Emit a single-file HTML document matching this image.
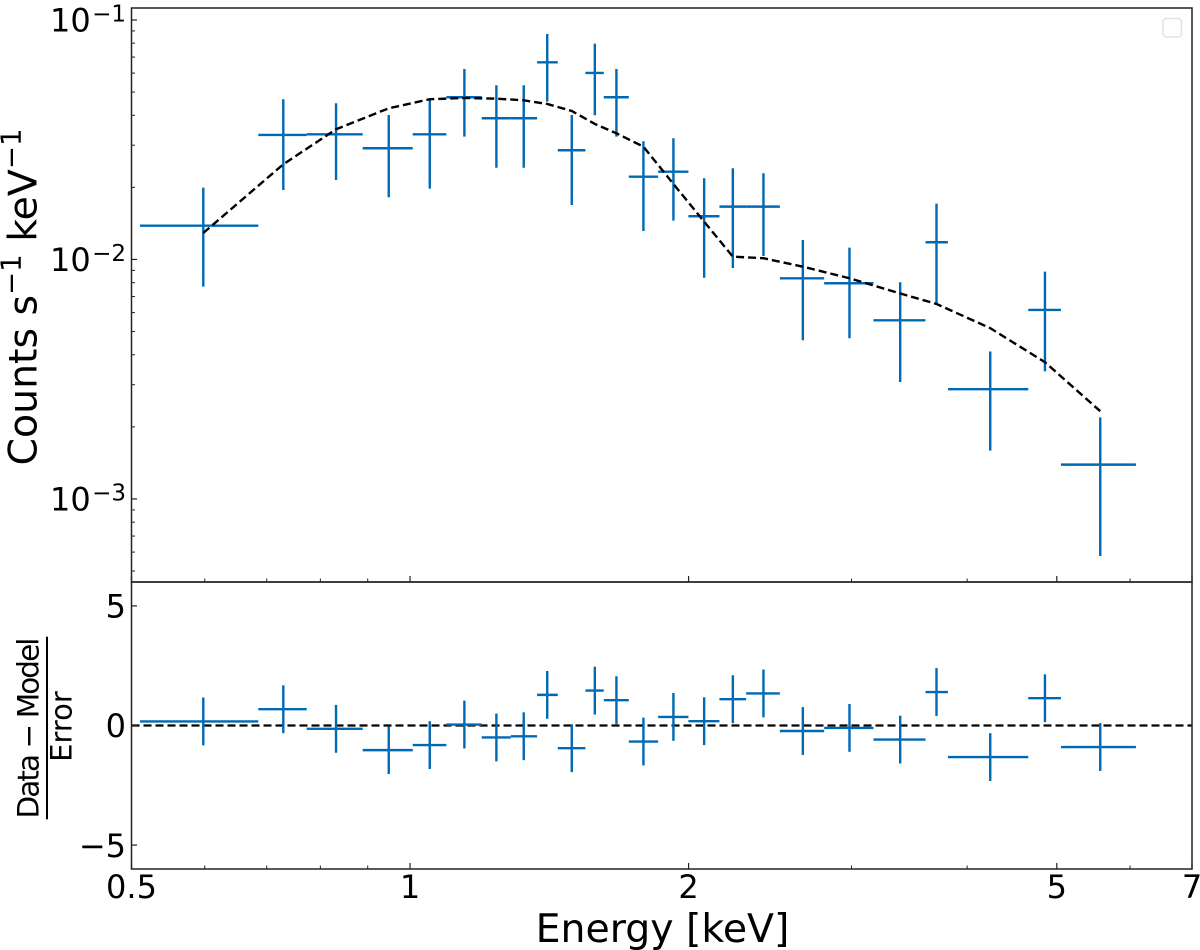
<!DOCTYPE html>
<html lang="en">
<head>
<meta charset="utf-8">
<title>X-ray spectrum with residuals</title>
<style>
html,body{margin:0;padding:0;background:#fff;width:1200px;height:950px;overflow:hidden}
svg{display:block}
text{font-family:"DejaVu Sans","Liberation Sans",sans-serif;fill:#000}
</style>
</head>
<body>
<svg id="chart" width="1200" height="950" viewBox="0 0 1200 950" xmlns="http://www.w3.org/2000/svg">
  <rect x="0" y="0" width="1200" height="950" fill="#fff"/>
  <g id="top-panel"></g>
  <g id="bottom-panel"></g>
  <g id="tick-labels"></g>
  <rect x="1163" y="18.5" width="18.5" height="18.5" rx="3.5" fill="#fff" stroke="#e2e2e2" stroke-width="1.5"/>
  <text x="662.5" y="942" font-size="39.4" text-anchor="middle">Energy [keV]</text>
  <text transform="translate(36.7,465.5) rotate(-90)" font-size="39.4">Counts s<tspan font-size="27.6" dy="-16">−1</tspan><tspan dy="16"> keV</tspan><tspan font-size="27.6" dy="-16">−1</tspan></text>
  <g>
    <text transform="translate(38.5,728) rotate(-90)" font-size="29.5" text-anchor="middle" textLength="181" lengthAdjust="spacing">Data − Model</text>
    <line x1="47" y1="636.7" x2="47" y2="819.3" stroke="#000" stroke-width="2"/>
    <text transform="translate(71.7,726.5) rotate(-90)" font-size="29" text-anchor="middle">Error</text>
  </g>
</svg>
<script>
// Chart data
const binEdges = [0.5107, 0.6855, 0.7733, 0.8889, 1.0067, 1.0946, 1.1954, 1.2849, 1.3719, 1.4444, 1.5471, 1.6196, 1.7236, 1.8540, 1.9992, 2.1597, 2.3080, 2.5101, 2.8026, 3.1686, 3.6063, 3.8132, 4.6570, 5.0521, 6.0885];
const energies = [0.5978, 0.7295, 0.8318, 0.9484, 1.0503, 1.1448, 1.2397, 1.3270, 1.4069, 1.4955, 1.5838, 1.6713, 1.7874, 1.9260, 2.0790, 2.2329, 2.4096, 2.6578, 2.9849, 3.3863, 3.7065, 4.2368, 4.8549, 5.5712];
const counts = [0.01384, 0.03310, 0.03332, 0.02913, 0.03332, 0.04757, 0.03887, 0.03887, 0.06659, 0.02858, 0.06008, 0.04757, 0.02217, 0.02325, 0.01515, 0.01662, 0.01662, 0.008346, 0.007955, 0.005573, 0.01180, 0.002874, 0.006155, 0.001391];
const countsUpper = [0.01994, 0.04667, 0.04488, 0.04011, 0.04634, 0.06245, 0.05338, 0.05338, 0.08740, 0.04011, 0.07964, 0.06245, 0.03116, 0.03208, 0.02183, 0.02403, 0.02291, 0.01206, 0.01120, 0.008032, 0.01710, 0.004129, 0.008893, 0.002191];
const countsLower = [0.00770, 0.01951, 0.02147, 0.01818, 0.01975, 0.03257, 0.02416, 0.02416, 0.04559, 0.01689, 0.03999, 0.03257, 0.01315, 0.01452, 0.00839, 0.00921, 0.01034, 0.004601, 0.004691, 0.003080, 0.006520, 0.001592, 0.003410, 0.000578];
const modelCounts = [0.01290, 0.02497, 0.03497, 0.04278, 0.04667, 0.04724, 0.04692, 0.04621, 0.04460, 0.04169, 0.03680, 0.03364, 0.02958, 0.02066, 0.01438, 0.01027, 0.01012, 0.009331, 0.008346, 0.007212, 0.00652, 0.005166, 0.003725, 0.002325];
const residuals = [0.17, 0.68, -0.14, -1.03, -0.82, 0.04, -0.50, -0.45, 1.28, -0.95, 1.46, 1.06, -0.67, 0.36, 0.18, 1.10, 1.34, -0.23, -0.10, -0.59, 1.40, -1.32, 1.14, -0.90];
const residualErrors = [1, 1, 1, 1, 1, 1, 1, 1, 1, 1, 1, 1, 1, 1, 1, 1, 1, 1, 1, 1, 1, 1, 1, 1];
const xMajorTicks = [0.5, 1, 2, 5, 7];
const xMajorTickLabels = ["0.5", "1", "2", "5", "7"];
const xMinorTicks = [0.6, 0.7, 0.8, 0.9, 3, 4, 6];
const yDecadeTicks = [0.1, 0.01, 0.001];
const yDecadeExponents = ["−1", "−2", "−3"];
const yMinorTicks = [0.09, 0.08, 0.07, 0.06, 0.05, 0.04, 0.03, 0.02, 0.009, 0.008, 0.007, 0.006, 0.005, 0.004, 0.003, 0.002, 0.0009, 0.0008, 0.0007, 0.0006, 0.0005];
const residualTicks = [5, 0, -5];
const residualTickLabels = ["5", "0", "−5"];
const xDomain = [0.5, 7];
const yDomain = [0.00045, 0.1122];
const residualDomain = [-6, 6];

const PLOT_LEFT = 131.5, PLOT_RIGHT = 1192, TOP_Y0 = 8, TOP_Y1 = 582, BOT_Y0 = 582, BOT_Y1 = 869;
const BLUE = "#0069b4";
const INK = "#222";
const SVG_NS = "http://www.w3.org/2000/svg";

function xScale(e) {
  return PLOT_LEFT + (Math.log10(e) - Math.log10(xDomain[0])) / (Math.log10(xDomain[1]) - Math.log10(xDomain[0])) * (PLOT_RIGHT - PLOT_LEFT);
}
function yScale(v) {
  return TOP_Y1 - (Math.log10(v) - Math.log10(yDomain[0])) / (Math.log10(yDomain[1]) - Math.log10(yDomain[0])) * (TOP_Y1 - TOP_Y0);
}
function rScale(v) {
  return BOT_Y1 - (v - residualDomain[0]) / (residualDomain[1] - residualDomain[0]) * (BOT_Y1 - BOT_Y0);
}
function makeLine(parent, x1, y1, x2, y2, color, width) {
  const el = document.createElementNS(SVG_NS, "line");
  el.setAttribute("x1", x1);
  el.setAttribute("y1", y1);
  el.setAttribute("x2", x2);
  el.setAttribute("y2", y2);
  el.setAttribute("stroke", color);
  el.setAttribute("stroke-width", width);
  parent.appendChild(el);
  return el;
}
function makeText(parent, x, y, size, anchor, content) {
  const el = document.createElementNS(SVG_NS, "text");
  el.setAttribute("x", x);
  el.setAttribute("y", y);
  el.setAttribute("font-size", size);
  el.setAttribute("text-anchor", anchor);
  el.textContent = content;
  parent.appendChild(el);
  return el;
}

const topPanel = document.getElementById("top-panel");
const bottomPanel = document.getElementById("bottom-panel");
const tickLabels = document.getElementById("tick-labels");

// Data marks, spectrum panel
energies.forEach(function (e, i) {
  const g = document.createElementNS(SVG_NS, "g");
  
  
  const h = makeLine(g, xScale(binEdges[i]), yScale(counts[i]), xScale(binEdges[i + 1]), yScale(counts[i]), BLUE, 2.4);
  
  
  const v = makeLine(g, xScale(e), yScale(countsUpper[i]), xScale(e), yScale(countsLower[i]), BLUE, 2.4);
  
  
  topPanel.appendChild(g);
});

// Model curve
const modelPath = document.createElementNS(SVG_NS, "polyline");


modelPath.setAttribute("points", energies.map(function (e, i) { return xScale(e) + "," + yScale(modelCounts[i]); }).join(" "));
modelPath.setAttribute("fill", "none");
modelPath.setAttribute("stroke", "#000");
modelPath.setAttribute("stroke-width", "2.4");
modelPath.setAttribute("stroke-dasharray", "8 4");
topPanel.appendChild(modelPath);

// Zero reference line
const zeroLine = makeLine(bottomPanel, PLOT_LEFT, rScale(0), PLOT_RIGHT, rScale(0), "#000", 2.3);


zeroLine.setAttribute("stroke-dasharray", "8 4");

// Data marks, residual panel
energies.forEach(function (e, i) {
  const g = document.createElementNS(SVG_NS, "g");
  
  
  const h = makeLine(g, xScale(binEdges[i]), rScale(residuals[i]), xScale(binEdges[i + 1]), rScale(residuals[i]), BLUE, 2.4);
  
  
  const v = makeLine(g, xScale(e), rScale(residuals[i] + residualErrors[i]), xScale(e), rScale(residuals[i] - residualErrors[i]), BLUE, 2.4);
  
  
  bottomPanel.appendChild(g);
});

// X ticks on both panels
[TOP_Y1, BOT_Y1].forEach(function (base) {
  xMajorTicks.forEach(function (t) {
    const el = makeLine(base === TOP_Y1 ? topPanel : bottomPanel, xScale(t), base, xScale(t), base - 6, INK, 1.2);
    
    
  });
  xMinorTicks.forEach(function (t) {
    const el = makeLine(base === TOP_Y1 ? topPanel : bottomPanel, xScale(t), base, xScale(t), base - 3.5, INK, 1);
    
    
  });
});

// X tick labels
xMajorTicks.forEach(function (t, i) {
  const el = makeText(tickLabels, xScale(t), 898, 32, "middle", xMajorTickLabels[i]);
  
  
});

// Y ticks, spectrum panel
yDecadeTicks.forEach(function (t, i) {
  const y = yScale(t);
  const tick = makeLine(topPanel, PLOT_LEFT, y, PLOT_LEFT + 5.5, y, INK, 1.2);
  
  
  const base = makeText(tickLabels, 50, y + 11.7, 32, "start", "10");
  
  
  const exp = makeText(tickLabels, 126, y + 1.5, 23, "end", yDecadeExponents[i]);
  
  
});
yMinorTicks.forEach(function (t) {
  const y = yScale(t);
  const tick = makeLine(topPanel, PLOT_LEFT, y, PLOT_LEFT + 3.5, y, INK, 1);
  
  
});

// Y ticks, residual panel
residualTicks.forEach(function (t, i) {
  const y = rScale(t);
  const tick = makeLine(bottomPanel, PLOT_LEFT, y, PLOT_LEFT + 5.5, y, INK, 1.2);
  
  
  const label = makeText(tickLabels, 126, y + 11.7, 32, "end", residualTickLabels[i]);
  
  
});

// Panel frames
const topFrame = document.createElementNS(SVG_NS, "rect");


topFrame.setAttribute("x", PLOT_LEFT);
topFrame.setAttribute("y", TOP_Y0);
topFrame.setAttribute("width", PLOT_RIGHT - PLOT_LEFT);
topFrame.setAttribute("height", TOP_Y1 - TOP_Y0);
topFrame.setAttribute("fill", "none");
topFrame.setAttribute("stroke", INK);
topFrame.setAttribute("stroke-width", "1.5");
topPanel.appendChild(topFrame);

const bottomFrame = document.createElementNS(SVG_NS, "rect");


bottomFrame.setAttribute("x", PLOT_LEFT);
bottomFrame.setAttribute("y", BOT_Y0);
bottomFrame.setAttribute("width", PLOT_RIGHT - PLOT_LEFT);
bottomFrame.setAttribute("height", BOT_Y1 - BOT_Y0);
bottomFrame.setAttribute("fill", "none");
bottomFrame.setAttribute("stroke", INK);
bottomFrame.setAttribute("stroke-width", "1.5");
bottomPanel.appendChild(bottomFrame);
</script>
</body>
</html>
